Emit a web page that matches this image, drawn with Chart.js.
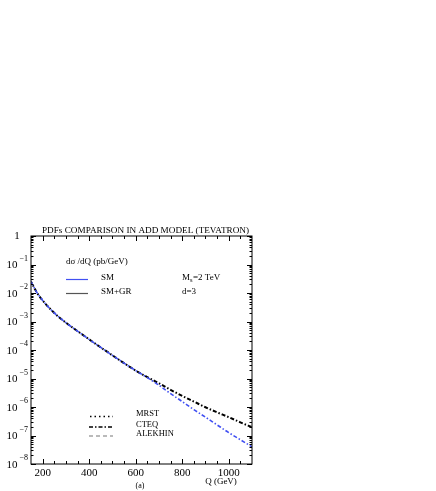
<!DOCTYPE html>
<html>
<head>
<meta charset="utf-8">
<script src="https://cdn.jsdelivr.net/npm/chart.js@4.4.0/dist/chart.umd.min.js"></script>
<style>
  html, body { margin: 0; padding: 0; background: #fff; }
  canvas { display: block; }
</style>
</head>
<body>
<canvas id="chart" width="436" height="491"></canvas>
<script>
'use strict';

// Q (GeV) and d sigma / dQ (pb/GeV)
const qValues = [150, 175, 200, 250, 300, 350, 400, 450, 500, 550, 600, 650, 700, 750, 800, 850, 900, 950, 1000, 1050, 1100];
const smGrValues = [2.5e-2, 1.05e-2, 5.5e-3, 2.0e-3, 9.1e-4, 4.6e-4, 2.35e-4, 1.23e-4, 6.5e-5, 3.45e-5, 1.9e-5,
  1.12e-5, 6.8e-6, 4.0e-6, 2.45e-6, 1.55e-6, 9.8e-7, 6.5e-7, 4.4e-7, 2.9e-7, 1.95e-7];
const smValues = [2.5e-2, 1.05e-2, 5.5e-3, 2.0e-3, 9.1e-4, 4.6e-4, 2.35e-4, 1.23e-4, 6.5e-5, 3.45e-5, 1.9e-5,
  1.07e-5, 5.8e-6, 2.95e-6, 1.55e-6, 8.1e-7, 4.4e-7, 2.35e-7, 1.26e-7, 7.1e-8, 4.0e-8];

const xTickValues = [200, 400, 600, 800, 1000];
const yDecades = [-8, -7, -6, -5, -4, -3, -2, -1, 0];

const FONT = '"Liberation Serif", "DejaVu Serif", serif';
const BLUE = '#4150f2';
const DASH_DOT = [4, 2, 1.5, 2];

const toPoints = (vals) => vals.map((v, i) => ({ x: qValues[i], y: v }));

function seg(ctx, x1, y1, x2, y2) {
  ctx.beginPath();
  ctx.moveTo(x1, y1);
  ctx.lineTo(x2, y2);
  ctx.stroke();
}

function text(ctx, str, x, y, size, align) {
  ctx.font = size + 'px ' + FONT;
  ctx.textAlign = align || 'left';
  ctx.textBaseline = 'middle';
  ctx.fillText(str, x, y);
}

// frame, mirrored inward ticks, labels and the in-plot keys
const framePlugin = {
  id: 'frame',
  afterDatasetsDraw(chart) {
    const { ctx, chartArea: a, scales } = chart;
    const xs = scales.x, ys = scales.y;
    ctx.save();
    ctx.strokeStyle = '#000';
    ctx.fillStyle = '#000';
    ctx.lineWidth = 1;
    ctx.strokeRect(a.left, a.top, a.right - a.left, a.bottom - a.top);

    for (let q = 200; q < 1100; q += 50) {
      const px = Math.round(xs.getPixelForValue(q)) + 0.5;
      const len = q % 200 === 0 ? 5 : 3;
      seg(ctx, px, a.bottom, px, a.bottom - len);
      seg(ctx, px, a.top, px, a.top + len);
    }
    yDecades.forEach(d => {
      const base = Math.pow(10, d);
      const py = Math.round(ys.getPixelForValue(base)) + 0.5;
      seg(ctx, a.left, py, a.left + 5, py);
      seg(ctx, a.right, py, a.right - 5, py);
      if (d < 0) {
        for (let k = 2; k <= 9; k++) {
          const pm = Math.round(ys.getPixelForValue(k * base)) + 0.5;
          seg(ctx, a.left, pm, a.left + 2.5, pm);
          seg(ctx, a.right, pm, a.right - 2.5, pm);
        }
      }
    });

    // tick labels
    yDecades.forEach(d => {
      const py = ys.getPixelForValue(Math.pow(10, d));
      if (d === 0) {
        text(ctx, '1', 17, py, 11, 'center');
      } else {
        text(ctx, '10', 17.5, py + 1, 11, 'right');
        text(ctx, String(d).replace('-', '\u2212'), 19.5, py - 6, 8, 'left');
      }
    });
    xTickValues.forEach(q => {
      text(ctx, String(q), xs.getPixelForValue(q), a.bottom + 9, 11, 'center');
    });

    text(ctx, 'PDFs COMPARISON IN ADD MODEL (TEVATRON)', 42, a.top - 5, 9.2, 'left');
    text(ctx, 'Q (GeV)', 221, a.bottom + 18, 9, 'center');
    text(ctx, '(a)', 140, a.bottom + 22, 8, 'center');

    // model key
    text(ctx, 'd\u03c3 /dQ (pb/GeV)', 66, 262, 9, 'left');
    ctx.lineWidth = 1.2;
    ctx.strokeStyle = BLUE;
    seg(ctx, 66, 279.5, 88, 279.5);
    ctx.strokeStyle = '#555';
    seg(ctx, 66, 293.5, 88, 293.5);
    text(ctx, 'SM', 101, 277.5, 9, 'left');
    text(ctx, 'SM+GR', 101, 291.5, 9, 'left');
    text(ctx, 'M', 182, 277.5, 9, 'left');
    const mw = ctx.measureText('M').width;
    text(ctx, 's', 182 + mw, 280.5, 6.5, 'left');
    text(ctx, '=2 TeV', 182 + mw + 3, 277.5, 9, 'left');
    text(ctx, 'd=3', 182, 291.5, 9, 'left');

    // PDF key
    ctx.strokeStyle = '#000';
    ctx.lineWidth = 1.6;
    ctx.setLineDash([1.5, 3]);
    seg(ctx, 90, 416.5, 113, 416.5);
    ctx.setLineDash(DASH_DOT);
    seg(ctx, 89, 427, 113, 427);
    ctx.strokeStyle = '#777';
    ctx.lineWidth = 1.2;
    ctx.setLineDash([4, 3]);
    seg(ctx, 89, 436, 113, 436);
    ctx.setLineDash([]);
    text(ctx, 'MRST', 136, 413.5, 8.5, 'left');
    text(ctx, 'CTEQ', 136, 425, 8.5, 'left');
    text(ctx, 'ALEKHIN', 136, 433.5, 8.5, 'left');
    ctx.restore();
  }
};

new Chart(document.getElementById('chart'), {
  type: 'line',
  data: {
    datasets: [
      {
        label: 'SM (CTEQ)',
        data: toPoints(smValues),
        borderColor: BLUE,
        borderWidth: 1.6,
        borderDash: DASH_DOT,
        pointRadius: 0,
        cubicInterpolationMode: 'monotone'
      },
      {
        label: 'SM+GR (CTEQ)',
        data: toPoints(smGrValues),
        borderColor: '#000',
        borderWidth: 2,
        borderDash: DASH_DOT,
        borderDashOffset: 2,
        pointRadius: 0,
        cubicInterpolationMode: 'monotone'
      }
    ]
  },
  options: {
    responsive: false,
    animation: false,
    events: [],
    layout: { padding: { left: 31, right: 184, top: 236, bottom: 27 } },
    plugins: { legend: { display: false }, tooltip: { enabled: false } },
    scales: {
      x: { type: 'linear', min: 150, max: 1100, display: false },
      y: { type: 'logarithmic', min: 1e-8, max: 1, display: false }
    }
  },
  plugins: [framePlugin]
});
</script>
</body>
</html>
